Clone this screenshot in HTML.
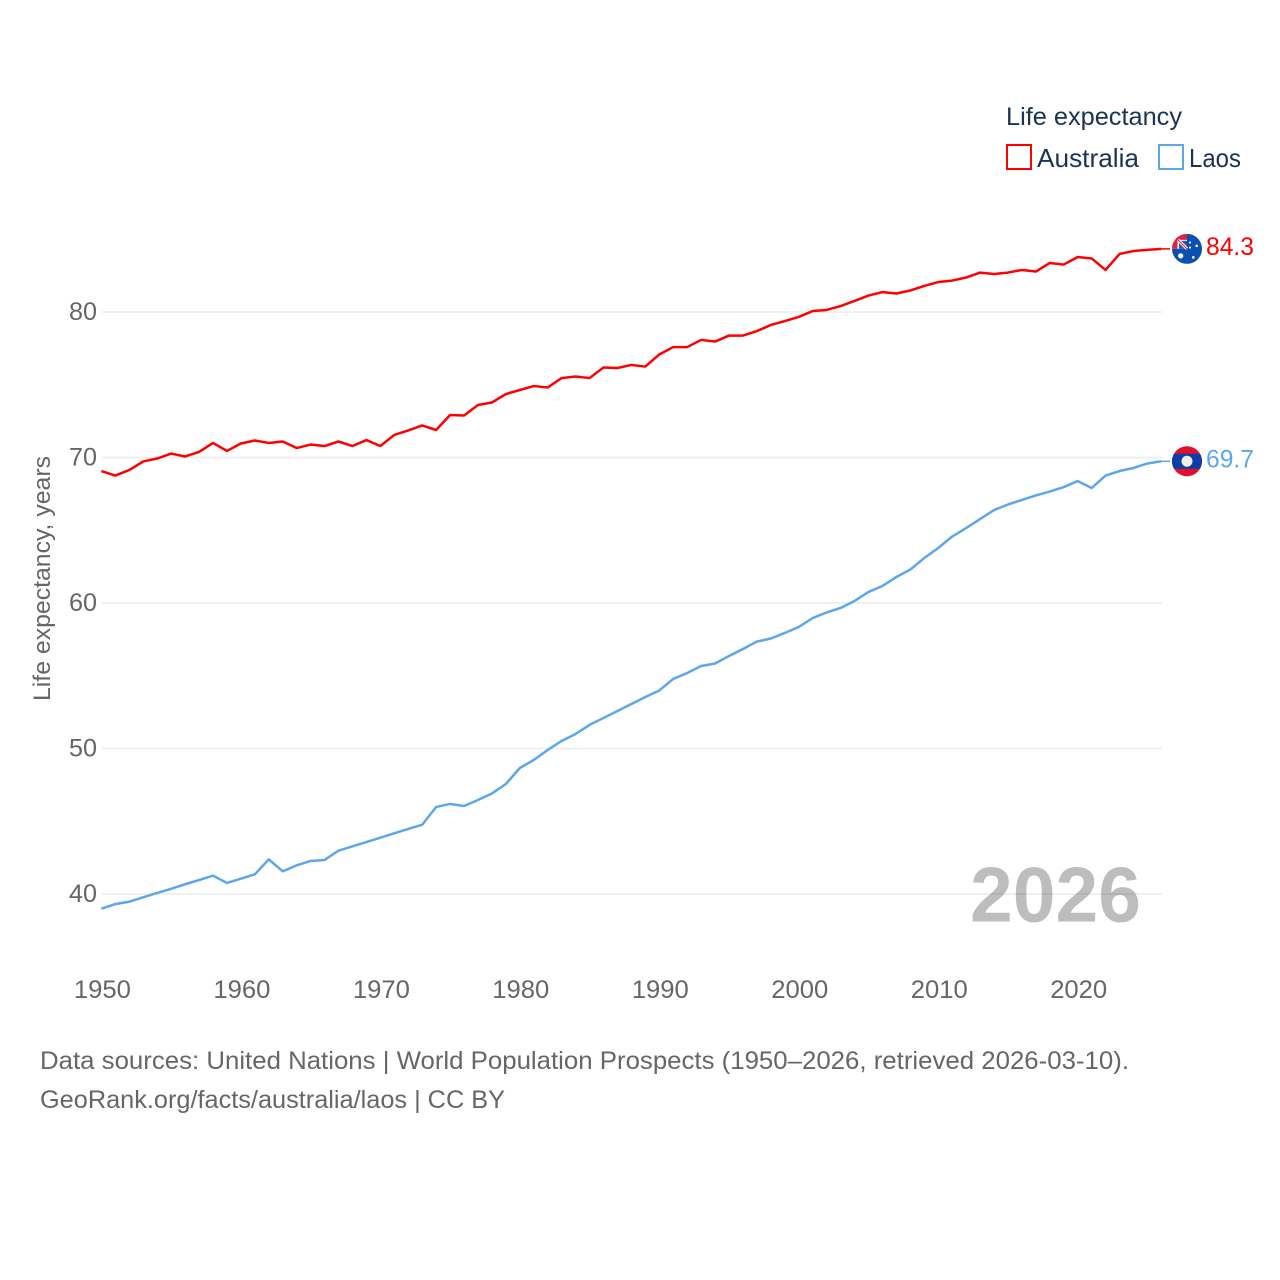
<!DOCTYPE html>
<html lang="en">
<head>
<meta charset="utf-8">
<title>Life expectancy: Australia and Laos</title>
<style>
html,body{margin:0;padding:0;background:#fff;}
svg{display:block;}
text{font-family:"Liberation Sans",sans-serif;}
</style>
</head>
<body>
<svg id="chart" width="1280" height="1280" viewBox="0 0 1280 1280" xmlns="http://www.w3.org/2000/svg">
  <defs>
    <clipPath id="flag-clip-au"><circle cx="0" cy="0" r="15"></circle></clipPath>
    <clipPath id="flag-clip-la"><circle cx="0" cy="0" r="15"></circle></clipPath>
  </defs>
  <rect width="1280" height="1280" fill="#ffffff"></rect>
  <g id="grid"></g>
  <g id="yticks"></g>
  <g id="xticks"></g>
  <text transform="translate(50,701) rotate(-90)" font-size="24" fill="#666666" textLength="245" lengthAdjust="spacingAndGlyphs">Life expectancy, years</text>
  <text x="970" y="921.5" font-size="78" font-weight="700" fill="#000000" fill-opacity="0.26" textLength="171" lengthAdjust="spacingAndGlyphs">2026</text>
  <g id="series"></g>
  <g id="flag-au">
    <circle cx="0" cy="0" r="17" fill="#ffffff"></circle>
    <g clip-path="url(#flag-clip-au)">
      <rect x="-15" y="-15" width="30" height="30" fill="#0a50b0"></rect>
      <rect x="-15" y="-15" width="15" height="15" fill="#f4f4f4"></rect>
      <rect x="-15" y="-15" width="15" height="6" fill="#e2203f"></rect>
      <rect x="-15" y="-15" width="5.5" height="15" fill="#e2203f"></rect>
      <rect x="-8" y="-8" width="8" height="8" fill="#2a5aa8"></rect>
      <path d="M-9,-9 L0,0" stroke="#ffffff" stroke-width="3"></path>
      <path d="M-9,-9 L0,0" stroke="#e2203f" stroke-width="1"></path>
      <circle cx="-6.3" cy="7" r="2.6" fill="#ffffff"></circle>
      <circle cx="3" cy="-6.3" r="1.1" fill="#ffffff"></circle>
      <circle cx="9.7" cy="-3" r="1.3" fill="#ffffff"></circle>
      <circle cx="3" cy="-1.3" r="1.1" fill="#ffffff"></circle>
      <circle cx="6.3" cy="8.5" r="1.3" fill="#ffffff"></circle>
    </g>
  </g>
  <g id="flag-la">
    <circle cx="0" cy="0" r="17" fill="#ffffff"></circle>
    <g clip-path="url(#flag-clip-la)">
      <rect x="-15" y="-16" width="30" height="32" fill="#e0102f"></rect>
      <rect x="-15" y="-7.5" width="30" height="15" fill="#0a3fa8"></rect>
      <circle cx="0" cy="0" r="5.5" fill="#f0f0f0"></circle>
    </g>
  </g>
  <g id="end-labels"></g>
  <g>
    <text x="1006" y="125" font-size="25" fill="#1a3355" textLength="176" lengthAdjust="spacingAndGlyphs">Life expectancy</text>
    <g>
      <rect x="1007" y="145" width="24" height="24" fill="#ffffff" stroke="#ff0000" stroke-width="2"></rect>
      <text x="1037" y="167" font-size="26" fill="#1a3355" textLength="102" lengthAdjust="spacingAndGlyphs">Australia</text>
    </g>
    <g>
      <rect x="1159" y="145" width="24" height="24" fill="#ffffff" stroke="#5ea6ec" stroke-width="2"></rect>
      <text x="1189" y="167" font-size="26" fill="#1a3355" textLength="52" lengthAdjust="spacingAndGlyphs">Laos</text>
    </g>
  </g>
  <text x="40" y="1069" font-size="25" fill="#666666" textLength="1089" lengthAdjust="spacingAndGlyphs">Data sources: United Nations | World Population Prospects (1950–2026, retrieved 2026-03-10).</text>
  <text x="40" y="1108" font-size="25" fill="#666666" textLength="465" lengthAdjust="spacingAndGlyphs">GeoRank.org/facts/australia/laos | CC BY</text>
</svg>
<script>
const startYear = 1950;
const australiaValues = [69.07,68.76,69.14,69.73,69.93,70.27,70.07,70.38,71.0,70.45,70.96,71.17,71.0,71.1,70.65,70.89,70.79,71.1,70.79,71.2,70.79,71.55,71.86,72.2,71.89,72.92,72.89,73.61,73.78,74.36,74.64,74.91,74.81,75.46,75.57,75.46,76.19,76.15,76.36,76.25,77.08,77.59,77.59,78.08,77.97,78.38,78.38,78.69,79.11,79.38,79.66,80.07,80.14,80.41,80.76,81.13,81.37,81.27,81.48,81.79,82.06,82.16,82.37,82.71,82.61,82.71,82.89,82.78,83.37,83.26,83.78,83.68,82.89,83.99,84.19,84.27,84.34];
const laosValues = [38.99,39.31,39.47,39.77,40.07,40.36,40.67,40.96,41.26,40.76,41.05,41.35,42.38,41.56,41.97,42.27,42.34,42.98,43.28,43.57,43.87,44.17,44.47,44.76,45.98,46.19,46.05,46.46,46.91,47.56,48.66,49.21,49.9,50.52,51.0,51.62,52.1,52.58,53.06,53.54,53.99,54.78,55.19,55.67,55.84,56.36,56.84,57.35,57.56,57.94,58.35,58.97,59.35,59.66,60.14,60.76,61.17,61.79,62.3,63.09,63.78,64.57,65.15,65.77,66.39,66.77,67.08,67.39,67.66,67.97,68.38,67.9,68.76,69.07,69.28,69.59,69.74];
const yTickValues = [40,50,60,70,80];
const xTickValues = [1950,1960,1970,1980,1990,2000,2010,2020];

const NS = 'http://www.w3.org/2000/svg';
const xScale = function (year) { return 101.4 + (year - 1950) * 13.947; };
const yScale = function (value) { return 894 - (value - 40) * 14.55; };

function makeSvg(tag, attrs, parent) {
  const el = document.createElementNS(NS, tag);
  Object.keys(attrs).forEach(function (k) { el.setAttribute(k, attrs[k]); });
  parent.appendChild(el);
  return el;
}

const gridGroup = document.getElementById('grid');
const yTickGroup = document.getElementById('yticks');
yTickValues.forEach(function (tick) {
  const line = makeSvg('line', { x1: 102, x2: 1162, y1: yScale(tick), y2: yScale(tick), stroke: '#ebebeb', 'stroke-width': 1.5 }, gridGroup);
  
  
  const label = makeSvg('text', { x: 97, y: yScale(tick) + 8, 'text-anchor': 'end', 'font-size': 25, fill: '#666666', textLength: 28, lengthAdjust: 'spacingAndGlyphs' }, yTickGroup);
  
  
  label.textContent = String(tick);
});

const xTickGroup = document.getElementById('xticks');
xTickValues.forEach(function (tick) {
  const label = makeSvg('text', { x: xScale(tick) + 1, y: 998, 'text-anchor': 'middle', 'font-size': 25, fill: '#666666', textLength: 57, lengthAdjust: 'spacingAndGlyphs' }, xTickGroup);
  
  
  label.textContent = String(tick);
});

const seriesGroup = document.getElementById('series');
function pointsFor(values) {
  return values.map(function (v, i) { return xScale(startYear + i).toFixed(2) + ',' + yScale(v).toFixed(2); }).join(' ');
}
function lastPoint(values) {
  const last = values.length - 1;
  return { x: xScale(startYear + last), y: yScale(values[last]), v: values[last] };
}

const ausLine = makeSvg('polyline', { points: pointsFor(australiaValues), fill: 'none', stroke: '#ff0000', 'stroke-width': 2.5, 'stroke-linejoin': 'round' }, seriesGroup);


const laosLine = makeSvg('polyline', { points: pointsFor(laosValues), fill: 'none', stroke: '#5ea6ec', 'stroke-width': 2.5, 'stroke-linejoin': 'round' }, seriesGroup);



const ausEnd = lastPoint(australiaValues);
const laosEnd = lastPoint(laosValues);

const ausConnector = makeSvg('line', { x1: ausEnd.x, x2: 1172, y1: ausEnd.y, y2: ausEnd.y, stroke: '#ff0000', 'stroke-width': 1.5 }, seriesGroup);


const laosConnector = makeSvg('line', { x1: laosEnd.x, x2: 1172, y1: laosEnd.y, y2: laosEnd.y, stroke: '#5ea6ec', 'stroke-width': 1.5 }, seriesGroup);



document.getElementById('flag-au').setAttribute('transform', 'translate(1187,' + ausEnd.y + ')');
document.getElementById('flag-la').setAttribute('transform', 'translate(1187,' + laosEnd.y + ')');

const endLabels = document.getElementById('end-labels');
const ausLabel = makeSvg('text', { x: 1206, y: ausEnd.y + 6, 'font-size': 25, fill: '#ff0000', textLength: 48, lengthAdjust: 'spacingAndGlyphs' }, endLabels);


ausLabel.textContent = ausEnd.v.toFixed(1);
const laosLabel = makeSvg('text', { x: 1206, y: laosEnd.y + 6, 'font-size': 25, fill: '#5ea6ec', textLength: 48, lengthAdjust: 'spacingAndGlyphs' }, endLabels);


laosLabel.textContent = laosEnd.v.toFixed(1);
</script>
</body>
</html>
